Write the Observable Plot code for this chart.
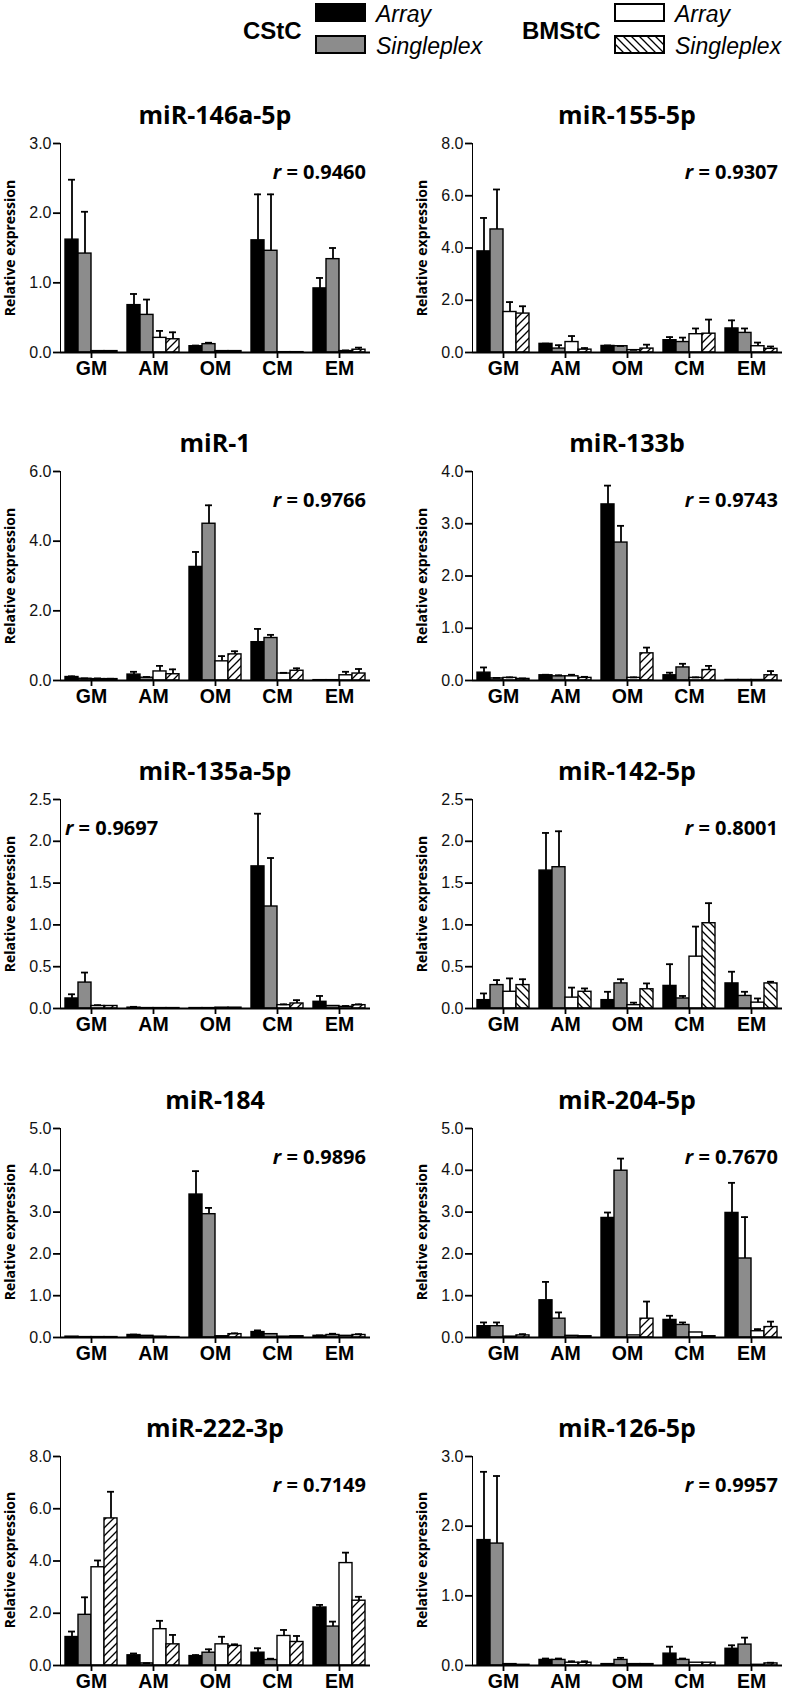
<!DOCTYPE html>
<html>
<head>
<meta charset="utf-8">
<script src="https://cdn.jsdelivr.net/npm/d3@7"></script>
<script src="https://cdn.jsdelivr.net/npm/@observablehq/plot@0.6"></script>
<style>
  body { margin: 0; background: #fff; }
  #root { position: relative; width: 788px; height: 1693px; overflow: hidden; background: #fff; }
  .abs { position: absolute; white-space: nowrap; line-height: 1; }
  .title { font: bold 25px "Open Sans"; transform: translate(-50%, -50%); color: #000; }
  .ylab { font: bold 14px "Open Sans"; transform: translate(-50%, -50%) rotate(-90deg); color: #000; }
  .lgHead { font: bold 24px "Liberation Sans"; transform: translateY(-50%); }
  .lgItem { font: italic 23px "Liberation Sans"; transform: translateY(-50%); }
  .panel svg { overflow: visible; }
  svg [aria-label^="fx-axis"] text { font: bold 19.5px "Liberation Sans"; fill: #000; }
  svg [aria-label^="y-axis"] text { font: 16px "Liberation Sans"; fill: #111; }
  svg [aria-label^="y-axis"] * { stroke-width: 1.8px; }
  svg [aria-label^="fx-axis"] * { stroke-width: 1.8px; }
</style>
</head>
<body>
<svg width="0" height="0" style="position:absolute">
  <defs>
    <pattern id="hatchf" patternUnits="userSpaceOnUse" width="8" height="8">
      <rect width="8" height="8" fill="white"/>
      <path d="M-2,2 l4,-4 M0,8 l8,-8 M6,10 l4,-4" stroke="black" stroke-width="1.3"/>
    </pattern>
    <pattern id="hatchb" patternUnits="userSpaceOnUse" width="8" height="8">
      <rect width="8" height="8" fill="white"/>
      <path d="M-2,6 l4,4 M0,0 l8,8 M6,-2 l4,4" stroke="black" stroke-width="1.3"/>
    </pattern>
  </defs>
</svg>
<div id="root"></div>
<script>
// ---------------- data ----------------
const groups = ["GM", "AM", "OM", "CM", "EM"];
const series = ["CStC Array", "CStC Singleplex", "BMStC Array", "BMStC Singleplex"];

const panelNames = ["miR-146a-5p", "miR-155-5p", "miR-1", "miR-133b", "miR-135a-5p",
                    "miR-142-5p", "miR-184", "miR-204-5p", "miR-222-3p", "miR-126-5p"];
const rValues = ["0.9460", "0.9307", "0.9766", "0.9743", "0.9697",
                 "0.8001", "0.9896", "0.7670", "0.7149", "0.9957"];
const yMaxes = [3, 8, 6, 4, 2.5, 2.5, 5, 5, 8, 3];
const yTicks = [
  [0, 1, 2, 3], [0, 2, 4, 6, 8], [0, 2, 4, 6], [0, 1, 2, 3, 4], [0, 0.5, 1, 1.5, 2, 2.5],
  [0, 0.5, 1, 1.5, 2, 2.5], [0, 1, 2, 3, 4, 5], [0, 1, 2, 3, 4, 5], [0, 2, 4, 6, 8], [0, 1, 2, 3]
];

// means per series (rows: CStC Array, CStC Singleplex, BMStC Array, BMStC Singleplex; cols: GM AM OM CM EM)
// tops = upper end of the error bar
const m146_mean = [[1.62, 0.68, 0.09, 1.61, 0.92], [1.42, 0.54, 0.12, 1.46, 1.34], [0.02, 0.21, 0.02, 0.005, 0.02], [0.02, 0.19, 0.02, 0.005, 0.04]];
const m146_top  = [[2.48, 0.84, 0.10, 2.27, 1.07], [2.02, 0.76, 0.14, 2.27, 1.50], [0.02, 0.31, 0.02, 0.005, 0.03], [0.02, 0.29, 0.02, 0.005, 0.07]];

const m155_mean = [[3.87, 0.33, 0.25, 0.47, 0.92], [4.71, 0.15, 0.24, 0.40, 0.75], [1.55, 0.40, 0.09, 0.70, 0.24], [1.49, 0.11, 0.15, 0.72, 0.14]];
const m155_top  = [[5.15, 0.34, 0.27, 0.59, 1.23], [6.24, 0.28, 0.25, 0.57, 0.92], [1.93, 0.63, 0.10, 0.92, 0.38], [1.77, 0.17, 0.30, 1.26, 0.23]];

const m1_mean = [[0.10, 0.17, 3.26, 1.10, 0.01], [0.05, 0.08, 4.50, 1.22, 0.01], [0.04, 0.26, 0.55, 0.20, 0.15], [0.04, 0.18, 0.75, 0.28, 0.20]];
const m1_top  = [[0.12, 0.25, 3.69, 1.48, 0.01], [0.06, 0.10, 5.03, 1.31, 0.01], [0.06, 0.42, 0.70, 0.22, 0.25], [0.05, 0.32, 0.84, 0.35, 0.33]];

const m133_mean = [[0.15, 0.10, 3.37, 0.10, 0.01], [0.04, 0.08, 2.64, 0.25, 0.01], [0.05, 0.08, 0.05, 0.05, 0.01], [0.03, 0.05, 0.52, 0.20, 0.10]];
const m133_top  = [[0.25, 0.11, 3.73, 0.15, 0.01], [0.05, 0.10, 2.96, 0.32, 0.01], [0.06, 0.11, 0.06, 0.06, 0.01], [0.04, 0.07, 0.63, 0.28, 0.18]];

const m135_mean = [[0.12, 0.01, 0.005, 1.70, 0.08], [0.31, 0.005, 0.005, 1.22, 0.03], [0.03, 0.005, 0.01, 0.04, 0.02], [0.03, 0.005, 0.01, 0.06, 0.04]];
const m135_top  = [[0.17, 0.02, 0.005, 2.33, 0.15], [0.43, 0.005, 0.005, 1.80, 0.03], [0.04, 0.005, 0.01, 0.05, 0.03], [0.03, 0.005, 0.01, 0.10, 0.05]];

const m142_mean = [[0.10, 1.65, 0.10, 0.27, 0.30], [0.28, 1.69, 0.30, 0.12, 0.15], [0.20, 0.13, 0.04, 0.62, 0.07], [0.28, 0.20, 0.23, 1.02, 0.30]];
const m142_top  = [[0.18, 2.10, 0.20, 0.53, 0.44], [0.34, 2.12, 0.35, 0.15, 0.20], [0.36, 0.25, 0.07, 0.98, 0.12], [0.35, 0.24, 0.30, 1.26, 0.32]];

const m184_mean = [[0.02, 0.06, 3.42, 0.13, 0.04], [0.01, 0.04, 2.95, 0.08, 0.06], [0.01, 0.02, 0.03, 0.02, 0.04], [0.01, 0.01, 0.08, 0.03, 0.06]];
const m184_top  = [[0.02, 0.07, 3.98, 0.17, 0.05], [0.01, 0.04, 3.10, 0.08, 0.09], [0.01, 0.02, 0.03, 0.02, 0.04], [0.01, 0.01, 0.10, 0.03, 0.08]];

const m204_mean = [[0.27, 0.89, 2.86, 0.42, 2.98], [0.27, 0.45, 3.99, 0.30, 1.89], [0.02, 0.04, 0.05, 0.12, 0.15], [0.05, 0.03, 0.45, 0.03, 0.25]];
const m204_top  = [[0.36, 1.33, 2.99, 0.52, 3.70], [0.36, 0.60, 4.28, 0.36, 2.88], [0.02, 0.04, 0.05, 0.12, 0.20], [0.08, 0.03, 0.86, 0.03, 0.38]];

const m222_mean = [[1.09, 0.39, 0.36, 0.49, 2.22], [1.94, 0.08, 0.49, 0.21, 1.49], [3.76, 1.39, 0.81, 1.13, 3.92], [5.63, 0.81, 0.75, 0.90, 2.48]];
const m222_top  = [[1.30, 0.46, 0.40, 0.66, 2.32], [2.61, 0.09, 0.62, 0.26, 1.68], [4.02, 1.71, 1.10, 1.36, 4.32], [6.65, 1.17, 0.81, 1.13, 2.63]];

const m126_mean = [[1.80, 0.08, 0.02, 0.17, 0.24], [1.75, 0.08, 0.08, 0.08, 0.30], [0.02, 0.04, 0.02, 0.04, 0.01], [0.01, 0.04, 0.02, 0.04, 0.03]];
const m126_top  = [[2.78, 0.10, 0.02, 0.27, 0.29], [2.72, 0.10, 0.11, 0.10, 0.40], [0.02, 0.06, 0.02, 0.04, 0.01], [0.01, 0.06, 0.02, 0.04, 0.04]];

const allMeans = [m146_mean, m155_mean, m1_mean, m133_mean, m135_mean, m142_mean, m184_mean, m204_mean, m222_mean, m126_mean];
const allTops  = [m146_top,  m155_top,  m1_top,  m133_top,  m135_top,  m142_top,  m184_top,  m204_top,  m222_top,  m126_top];

// ---------------- layout ----------------
const root = document.getElementById("root");
function addDiv(cls, text, x, y) {
  const d = document.createElement("div");
  d.className = "abs " + cls;
  d.textContent = text;
  d.style.left = x + "px";
  d.style.top = y + "px";
  root.appendChild(d);
  return d;
}

// legend
function swatch(x, y, fill) {
  const ns = "http://www.w3.org/2000/svg";
  const s = document.createElementNS(ns, "svg");
  s.setAttribute("width", 52); s.setAttribute("height", 20);
  s.style.position = "absolute"; s.style.left = x + "px"; s.style.top = y + "px";
  const r = document.createElementNS(ns, "rect");
  r.setAttribute("x", 1); r.setAttribute("y", 1); r.setAttribute("width", 49); r.setAttribute("height", 17);
  r.setAttribute("fill", fill); r.setAttribute("stroke", "black"); r.setAttribute("stroke-width", 2);
  s.appendChild(r);
  root.appendChild(s);
}
addDiv("lgHead", "CStC", 243, 31);
swatch(315, 3, "#000000");
swatch(315, 35, "#8c8c8c");
addDiv("lgItem", series[0].split(" ")[1], 376, 14);
addDiv("lgItem", series[1].split(" ")[1], 376, 46);
addDiv("lgHead", "BMStC", 522, 31);
swatch(614, 3, "#ffffff");
swatch(614, 35, "url(#hatchb)");
addDiv("lgItem", series[2].split(" ")[1], 675, 14);
addDiv("lgItem", series[3].split(" ")[1], 675, 46);

const fills = ["#000000", "#8c8c8c", "#ffffff", "url(#hatchf)"];

const W = 376, ML = 58, MR = 4, MT = 10, PH = 209, MB = 35;

panelNames.forEach((name, idx) => {
  const col = idx % 2, row = Math.floor(idx / 2);
  const zeroY = 352 + 328.2 * row;
  const left = col ? 412 : 0;
  const data = [];
  series.forEach((s, k) => groups.forEach((g, i) => {
    data.push({g, s, k, v: allMeans[idx][k][i], e: allTops[idx][k][i]});
  }));
  const errs = data.filter(d => d.e > d.v + 1e-9);
  const leftLabel = name === "miR-135a-5p";
  const hatch = name === "miR-142-5p" ? "url(#hatchb)" : "url(#hatchf)";
  const barMarks = series.map((s, k) =>
    Plot.barY(data.filter(d => d.k === k), {
      fx: "g", x: "s", y: "v",
      fill: k === 3 ? hatch : fills[k],
      stroke: "black", strokeWidth: 1.4
    })
  );
  const rLabel = [{
    g: leftLabel ? groups[0] : groups[groups.length - 1],
    s: leftLabel ? series[0] : series[series.length - 1],
    y: yMaxes[idx],
    t: "r = " + rValues[idx]
  }];
  const svg = Plot.plot({
    width: W, height: MT + PH + MB,
    marginLeft: ML, marginRight: MR, marginTop: MT, marginBottom: MB,
    style: {overflow: "visible", background: "transparent", color: "#000"},
    fx: {domain: groups, padding: 0, axis: "bottom", tickSize: 6, tickPadding: 3, label: null},
    x: {domain: series, axis: null, paddingInner: 0, paddingOuter: 0.34},
    y: {domain: [0, yMaxes[idx]], ticks: yTicks[idx], tickFormat: d3.format(".1f"),
        tickSize: 7, tickPadding: 2, line: true, label: null},
    marks: [
      ...barMarks,
      Plot.ruleX(errs, {fx: "g", x: "s", y1: "v", y2: "e", strokeWidth: 1.8}),
      Plot.tickY(errs, {fx: "g", x: "s", y: "e", insetLeft: 3, insetRight: 3, strokeWidth: 1.8}),
      Plot.ruleY([0], {strokeWidth: 1.8}),
      Plot.text(rLabel, {
        fx: "g", x: "s", y: "y", text: "t",
        textAnchor: leftLabel ? "start" : "end",
        dx: leftLabel ? -7 : 7, dy: 29,
        fontFamily: "Open Sans", fontWeight: "bold", fontSize: 20, fill: "#000"
      })
    ]
  });
  // italic r
  d3.select(svg).selectAll("text").each(function () {
    const t = this.textContent;
    if (t.startsWith("r = ")) {
      const sel = d3.select(this);
      sel.text(null);
      sel.append("tspan").attr("font-style", "italic").text("r");
      sel.append("tspan").text(t.slice(1));
    }
  });
  const wrap = document.createElement("div");
  wrap.className = "panel";
  wrap.style.position = "absolute";
  wrap.style.left = left + "px";
  wrap.style.top = (zeroY - PH - MT) + "px";
  wrap.appendChild(svg);
  root.appendChild(wrap);
  addDiv("title", name, left + ML + (W - ML - MR) / 2, zeroY - 238);
  addDiv("ylab", "Relative expression", left + ML - 49, zeroY - PH / 2);
});
</script>
</body>
</html>
